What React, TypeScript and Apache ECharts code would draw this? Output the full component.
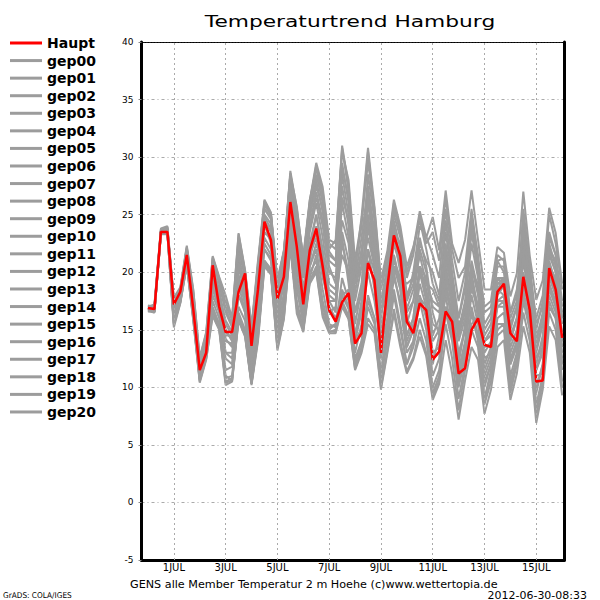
import React, { useEffect, useRef } from "react";
import * as echarts from "echarts";

// hours relative to 1 JUL 2012 00Z; one value every 6 h from 30 JUN 00Z to 16 JUL 00Z
const stepCount = 65;
const times: number[] = Array.from({ length: stepCount }, (_, i) => -24 + 6 * i);

const dayHours = [0, 48, 96, 144, 192, 240, 288, 336];
const dayLabels = ["1JUL", "3JUL", "5JUL", "7JUL", "9JUL", "11JUL", "13JUL", "15JUL"];

const haupt = [16.9, 16.8, 23.5, 23.5, 17.2, 18.3, 21.5, 16.8, 11.5, 13.0,
  20.6, 17.0, 14.8, 14.8, 18.3, 19.9, 13.6, 18.5, 24.4, 22.8, 17.7, 19.6,
  26.1, 22.2, 17.2, 21.9, 23.8, 20.5, 16.7, 15.7, 17.4, 18.2, 13.8, 14.7,
  20.8, 19.3, 13.0, 18.75, 23.2, 21.4, 15.7, 14.7, 17.3, 16.7, 12.4, 13.1,
  16.6, 15.7, 11.2, 11.65, 15.0, 16.0, 13.7, 13.5, 18.3, 19.0, 14.7, 14.0, 19.6, 16.7, 10.5, 10.6, 20.35, 18.5, 14.3];

const gep00 = [16.9, 16.7, 23.6, 23.8, 17.5, 18.5, 22.1, 18.2, 12.3, 14.5,
  21.0, 19.0, 16.5, 15.2, 22.0, 19.5, 14.8, 20.2, 25.5, 24.6, 18.5, 21.0,
  28.2, 24.5, 20.3, 25.1, 28.0, 25.2, 21.0, 20.5, 28.5, 25.0, 18.2, 21.5,
  27.0, 22.0, 16.0, 19.5, 24.0, 21.0, 16.8, 18.5, 21.5, 19.0, 18.5, 17.0,
  22.0, 18.0, 14.5, 16.5, 21.0, 18.5, 13.0, 14.0, 18.5, 18.0, 13.5, 15.0, 21.0, 17.5, 12.0, 14.5, 20.0, 18.0, 13.0];
const gep01 = [16.7, 16.6, 23.4, 23.5, 16.2, 17.8, 21.0, 16.5, 11.0, 13.2,
  18.5, 16.8, 12.5, 12.0, 19.0, 16.5, 11.5, 16.0, 22.5, 21.5, 15.0, 17.5,
  24.5, 19.5, 16.0, 20.5, 22.0, 18.5, 15.5, 15.2, 19.5, 17.5, 12.5, 14.0,
  18.0, 16.0, 11.0, 14.0, 18.0, 15.0, 12.0, 13.5, 16.0, 14.0, 10.0, 11.5,
  15.5, 12.5, 8.0, 11.5, 15.0, 13.5, 8.5, 10.5, 14.5, 15.0, 9.5, 12.0, 16.5, 14.0, 7.5, 10.5, 16.5, 15.0, 10.0];
const gep02 = [17.0, 17.1, 23.7, 23.9, 17.0, 18.2, 21.8, 17.5, 11.8, 14.0,
  20.5, 18.5, 15.5, 14.5, 21.0, 18.0, 13.5, 19.5, 25.8, 25.0, 18.8, 21.5,
  28.8, 25.5, 21.2, 26.0, 29.3, 27.0, 22.5, 22.0, 31.0, 27.5, 20.5, 24.0,
  30.5, 25.0, 18.5, 21.0, 26.0, 23.5, 19.5, 21.5, 25.0, 22.5, 23.5, 21.0,
  26.5, 22.0, 19.5, 20.5, 25.5, 21.0, 17.0, 17.5, 21.5, 21.0, 16.5, 18.0, 24.0, 20.0, 15.0, 17.5, 23.5, 21.5, 17.5];
const gep03 = [16.8, 16.5, 23.3, 23.4, 15.5, 17.4, 20.8, 16.0, 10.6, 12.6,
  17.0, 15.5, 10.8, 11.0, 16.5, 15.0, 10.5, 15.0, 21.0, 20.2, 13.8, 16.5,
  23.0, 17.5, 15.0, 19.5, 21.5, 17.0, 15.0, 15.5, 18.5, 17.0, 13.0, 15.5,
  20.0, 17.5, 13.5, 16.0, 20.5, 18.5, 14.5, 16.0, 20.5, 18.5, 15.5, 15.0,
  21.5, 19.0, 16.0, 18.5, 24.0, 20.5, 15.5, 16.5, 20.5, 20.5, 16.0, 17.5, 25.0, 20.0, 16.0, 18.0, 25.0, 22.5, 18.5];
const gep04 = [16.9, 16.8, 23.5, 23.6, 16.8, 18.0, 21.4, 17.0, 11.4, 13.5,
  19.5, 17.5, 14.0, 13.8, 19.8, 17.5, 12.8, 18.0, 24.0, 23.0, 16.5, 19.0,
  26.5, 22.5, 18.5, 23.5, 26.0, 23.0, 19.0, 18.5, 26.0, 23.0, 16.5, 19.0,
  25.0, 20.5, 14.5, 17.5, 22.5, 20.5, 15.5, 17.5, 22.0, 20.0, 14.5, 16.0,
  20.5, 17.5, 12.5, 15.0, 19.5, 17.0, 11.5, 13.0, 17.0, 17.5, 12.0, 14.0, 19.5, 17.0, 11.5, 13.5, 19.0, 17.5, 12.5];
const gep05 = [17.1, 17.0, 23.6, 23.7, 17.3, 18.4, 21.6, 17.8, 12.0, 14.2,
  20.8, 19.3, 17.5, 15.8, 23.0, 20.0, 15.0, 20.8, 26.0, 25.0, 19.0, 21.8,
  28.5, 25.7, 21.0, 26.2, 29.5, 27.4, 22.8, 22.5, 30.5, 28.0, 21.0, 24.5,
  29.5, 25.5, 19.0, 21.5, 25.0, 23.0, 18.0, 19.5, 23.0, 20.5, 16.5, 14.5,
  18.0, 14.5, 10.0, 12.5, 16.5, 14.0, 9.0, 11.5, 15.0, 15.5, 10.0, 12.5, 17.5, 15.0, 8.5, 11.0, 17.0, 16.0, 11.5];
const gep06 = [16.6, 16.6, 23.4, 23.5, 15.8, 17.6, 20.9, 16.3, 10.8, 12.8,
  16.5, 15.2, 10.5, 10.8, 16.0, 14.6, 10.3, 14.5, 20.8, 20.0, 13.5, 16.2,
  22.5, 16.8, 15.0, 19.2, 20.5, 16.5, 14.8, 15.0, 17.5, 16.2, 11.8, 13.5,
  17.0, 15.5, 11.5, 15.0, 19.5, 17.5, 13.5, 15.0, 19.0, 17.0, 13.0, 13.5,
  19.0, 16.5, 11.5, 14.0, 19.0, 17.0, 12.0, 13.5, 19.0, 19.5, 14.0, 16.0, 22.5, 19.0, 13.5, 15.5, 21.5, 20.0, 15.5];
const gep07 = [16.8, 16.9, 23.5, 23.8, 17.6, 18.6, 22.2, 18.4, 12.5, 14.7,
  21.3, 19.5, 17.0, 16.0, 23.3, 20.1, 15.2, 20.5, 26.2, 25.1, 19.2, 21.8,
  27.5, 24.0, 19.5, 24.0, 27.0, 24.5, 20.5, 19.0, 27.5, 24.0, 17.5, 20.5,
  28.5, 24.5, 17.5, 20.5, 25.5, 23.5, 20.0, 22.0, 25.3, 23.0, 24.8, 21.9,
  27.1, 22.5, 20.8, 22.8, 27.1, 22.8, 18.5, 18.5, 22.2, 21.7, 17.9, 19.9, 27.0, 21.4, 17.6, 19.3, 25.6, 23.4, 19.0];
const gep08 = [16.7, 16.7, 23.3, 23.4, 15.2, 17.3, 20.6, 15.8, 10.4, 12.4,
  16.2, 15.0, 10.2, 10.5, 15.8, 14.4, 10.2, 14.0, 20.5, 19.8, 13.2, 15.9,
  22.2, 16.4, 14.8, 19.0, 20.0, 16.1, 14.7, 14.7, 17.0, 15.9, 11.5, 13.0,
  15.5, 14.7, 9.8, 13.0, 16.4, 13.5, 11.2, 12.4, 14.4, 12.7, 8.9, 10.3,
  14.1, 11.2, 7.2, 10.6, 13.5, 12.4, 7.7, 9.8, 13.5, 14.1, 8.9, 11.2, 15.3, 13.0, 6.9, 9.8, 15.3, 14.1, 9.3];
const gep09 = [17.0, 16.9, 23.6, 23.7, 17.2, 18.3, 21.7, 17.6, 11.9, 13.9,
  20.0, 18.0, 15.8, 14.8, 21.5, 18.8, 14.0, 19.0, 25.0, 24.2, 17.8, 20.5,
  27.0, 23.5, 19.8, 24.8, 27.5, 25.5, 21.5, 21.0, 29.0, 26.5, 19.5, 23.0,
  27.5, 23.5, 17.0, 20.0, 24.5, 22.0, 17.5, 19.0, 22.5, 21.0, 20.0, 18.0,
  23.5, 19.5, 15.0, 17.5, 22.5, 19.5, 14.5, 15.5, 19.5, 19.5, 14.5, 16.0, 22.0, 18.5, 14.0, 16.5, 22.5, 20.5, 16.0];
const gep10 = [16.9, 16.8, 23.5, 23.6, 17.0, 18.2, 21.4, 16.9, 11.6, 13.1,
  20.3, 17.2, 14.5, 14.5, 18.5, 19.5, 13.8, 18.2, 24.2, 22.5, 17.5, 19.4,
  25.8, 21.8, 17.5, 21.5, 23.5, 20.8, 17.0, 16.0, 18.0, 18.5, 14.2, 15.0,
  21.0, 19.0, 13.5, 18.5, 22.8, 21.0, 16.0, 15.0, 17.8, 17.0, 13.0, 13.5,
  17.0, 16.0, 11.8, 12.0, 15.5, 16.2, 13.5, 13.8, 18.0, 18.8, 14.5, 14.2, 19.2, 17.0, 11.0, 11.2, 20.0, 18.8, 14.8];
const gep11 = [16.8, 16.7, 23.4, 23.6, 16.5, 17.9, 21.1, 16.6, 11.2, 13.4,
  18.0, 16.5, 13.0, 13.0, 18.0, 17.0, 13.0, 17.0, 22.0, 21.0, 16.0, 18.0,
  23.5, 20.0, 18.0, 20.5, 22.5, 20.5, 18.5, 18.0, 21.5, 20.0, 16.5, 18.0,
  22.0, 20.0, 16.5, 18.5, 21.0, 19.5, 16.5, 17.5, 20.0, 19.0, 17.5, 17.0,
  20.0, 18.0, 15.5, 16.5, 18.5, 17.0, 14.0, 14.5, 17.0, 17.0, 13.0, 14.5, 18.0, 16.0, 12.5, 13.5, 18.0, 16.5, 13.5];
const gep12 = [16.9, 17.0, 23.7, 23.9, 17.8, 18.7, 22.3, 18.5, 12.6, 14.8,
  21.4, 19.6, 18.0, 16.0, 23.4, 20.2, 15.3, 21.0, 26.3, 25.2, 19.3, 21.9,
  28.0, 24.8, 20.8, 25.5, 28.5, 26.0, 21.8, 21.0, 29.5, 26.0, 19.0, 22.0,
  26.0, 21.5, 15.0, 18.0, 23.0, 20.0, 14.5, 16.0, 20.5, 18.0, 12.5, 13.0,
  19.5, 15.5, 11.0, 13.5, 18.0, 15.5, 10.0, 12.0, 16.0, 16.5, 11.0, 13.0, 18.5, 15.5, 9.5, 12.0, 18.5, 17.0, 12.0];
const gep13 = [16.7, 16.6, 23.4, 23.5, 16.0, 17.7, 21.2, 16.2, 10.9, 12.9,
  17.5, 16.0, 11.5, 11.8, 17.0, 15.8, 11.0, 16.0, 22.0, 21.2, 14.5, 17.0,
  23.8, 18.5, 15.5, 20.0, 21.0, 17.5, 15.2, 15.5, 18.0, 16.8, 12.0, 14.0,
  17.5, 16.0, 10.5, 14.5, 18.5, 15.5, 12.0, 14.0, 18.0, 16.0, 11.0, 12.5,
  18.5, 16.0, 12.0, 15.5, 20.0, 19.0, 15.0, 16.0, 21.0, 21.2, 16.5, 18.5, 23.5, 20.5, 15.5, 17.0, 22.0, 21.0, 17.0];
const gep14 = [16.8, 16.8, 23.5, 23.6, 16.3, 17.8, 21.0, 16.8, 11.2, 13.3,
  18.8, 17.0, 13.0, 12.5, 18.0, 16.5, 12.0, 17.0, 23.0, 22.0, 15.5, 18.0,
  25.0, 20.5, 16.5, 21.0, 24.0, 20.0, 16.5, 17.0, 22.5, 20.0, 14.0, 16.5,
  22.0, 18.5, 12.5, 15.5, 20.0, 17.0, 13.0, 14.0, 17.5, 15.0, 9.5, 11.0,
  16.5, 14.0, 9.0, 12.0, 17.0, 14.5, 9.0, 11.0, 15.5, 15.5, 10.5, 12.5, 18.0, 15.0, 8.0, 10.5, 17.5, 16.0, 10.5];
const gep15 = [17.0, 17.2, 23.8, 24.0, 17.5, 18.5, 22.0, 18.0, 12.2, 14.3,
  21.2, 19.3, 16.8, 15.5, 22.5, 19.8, 14.5, 20.0, 25.5, 24.8, 18.6, 21.3,
  28.6, 25.0, 21.4, 26.3, 29.0, 26.5, 22.0, 22.8, 30.8, 27.0, 20.0, 24.8,
  30.8, 25.7, 19.3, 21.9, 26.3, 24.0, 20.5, 22.2, 24.5, 22.0, 19.0, 17.5,
  24.5, 20.0, 16.0, 19.0, 25.0, 21.5, 16.5, 17.0, 21.0, 20.0, 15.0, 17.0, 23.0, 19.5, 13.0, 15.5, 21.0, 19.0, 14.0];
const gep16 = [16.6, 16.5, 23.3, 23.3, 15.6, 17.5, 20.7, 16.1, 10.7, 12.7,
  16.8, 15.4, 11.0, 10.6, 16.2, 14.8, 10.4, 14.5, 21.0, 20.3, 14.0, 16.5,
  23.2, 19.0, 16.8, 21.5, 23.0, 19.5, 17.5, 17.5, 23.0, 19.0, 14.5, 17.5,
  24.0, 20.5, 15.5, 17.0, 21.5, 19.0, 14.0, 15.5, 20.5, 18.0, 14.0, 15.0,
  20.0, 17.0, 13.0, 15.0, 20.0, 16.5, 11.0, 12.5, 17.5, 18.0, 12.5, 13.5, 20.0, 17.5, 12.5, 14.0, 19.5, 18.0, 13.5];
const gep17 = [16.8, 16.9, 23.6, 23.7, 17.4, 18.4, 21.9, 17.8, 12.1, 14.1,
  20.2, 18.2, 15.0, 14.0, 20.5, 18.0, 13.5, 18.5, 24.5, 23.5, 17.0, 19.5,
  26.0, 22.0, 18.0, 22.5, 25.0, 22.0, 18.0, 17.5, 24.5, 22.5, 15.5, 18.5,
  26.5, 23.0, 16.5, 19.5, 23.5, 22.5, 17.5, 20.0, 24.0, 23.1, 21.5, 19.5,
  25.5, 21.0, 17.5, 20.0, 24.5, 20.0, 14.0, 14.5, 19.0, 19.0, 12.5, 14.0, 21.5, 18.0, 10.0, 12.0, 20.5, 19.5, 14.0];
const gep18 = [16.7, 16.6, 23.3, 23.4, 15.4, 17.4, 20.6, 15.9, 10.5, 12.5,
  16.3, 15.1, 10.4, 10.6, 15.9, 14.5, 10.3, 14.2, 20.6, 19.9, 13.4, 16.0,
  22.3, 17.0, 15.2, 19.3, 20.2, 16.3, 14.9, 14.8, 17.2, 16.0, 11.6, 13.2,
  16.0, 15.0, 10.0, 13.2, 16.8, 14.0, 11.4, 12.6, 15.0, 13.0, 9.2, 10.6,
  17.0, 14.5, 10.5, 13.0, 19.5, 16.0, 10.5, 12.0, 18.5, 19.5, 15.5, 17.0, 24.5, 19.0, 14.5, 16.0, 22.0, 20.0, 16.5];
const gep19 = [16.9, 16.9, 23.5, 23.7, 17.1, 18.1, 21.5, 17.3, 11.7, 13.7,
  19.8, 17.8, 14.8, 14.2, 20.8, 18.5, 13.8, 19.2, 24.8, 23.8, 17.2, 20.0,
  27.3, 23.0, 19.5, 24.0, 26.5, 24.0, 20.0, 19.5, 26.5, 24.5, 19.0, 20.5,
  23.0, 20.5, 19.0, 19.5, 20.5, 19.5, 19.0, 19.5, 20.5, 19.5, 17.0, 16.5,
  21.0, 18.5, 14.0, 16.0, 20.5, 18.0, 12.5, 13.0, 17.5, 17.5, 12.0, 13.5, 19.0, 16.5, 11.5, 13.0, 19.0, 17.0, 12.0];
const gep20 = [16.8, 16.7, 23.4, 23.6, 16.6, 18.0, 21.3, 17.2, 11.5, 13.6,
  19.0, 17.6, 14.2, 13.5, 19.5, 17.2, 12.5, 17.5, 23.5, 22.8, 16.0, 19.0,
  25.5, 21.0, 17.0, 22.0, 25.0, 21.5, 17.5, 16.5, 23.5, 21.0, 14.5, 17.0,
  24.5, 21.5, 14.0, 17.0, 21.5, 18.5, 13.5, 15.0, 20.0, 17.5, 12.0, 14.5,
  22.5, 19.0, 14.5, 17.0, 23.5, 20.0, 14.0, 15.0, 19.5, 19.0, 14.0, 16.0, 25.5, 20.5, 14.0, 16.0, 23.0, 21.5, 16.0];

const memberNames = ["gep00", "gep01", "gep02", "gep03", "gep04", "gep05", "gep06", "gep07", "gep08", "gep09", "gep10",
  "gep11", "gep12", "gep13", "gep14", "gep15", "gep16", "gep17", "gep18", "gep19", "gep20"];
const members = [gep00, gep01, gep02, gep03, gep04, gep05, gep06, gep07, gep08, gep09, gep10,
  gep11, gep12, gep13, gep14, gep15, gep16, gep17, gep18, gep19, gep20];

const titleText = "Temperaturtrend Hamburg";
const footerText = "GENS alle Member Temperatur 2 m Hoehe (c)www.wettertopia.de";
const creditText = "GrADS: COLA/IGES";
const stampText = "2012-06-30-08:33";

const GREY = "#9c9c9c";
const RED = "#ff0000";
const FONT = "DejaVu Sans";

export default function App() {
  const ref = useRef<HTMLDivElement>(null);
  useEffect(() => {
    document.body.style.margin = "0";
    if (!ref.current) return;
    const chart = echarts.init(ref.current, null, { renderer: "svg" });
    const toPairs = (vals: number[]) => vals.map((v, i) => [times[i], v]);
    const memberSeries = members.map((vals, k) => ({
      name: memberNames[k],
      type: "line",
      data: toPairs(vals),
      symbol: "none",
      showSymbol: false,
      silent: true,
      z: 2,
      lineStyle: { color: GREY, width: 2 },
      itemStyle: { color: GREY },
    }));
    const option: any = {
      animation: false,
      grid: { left: 141.5, right: 35.7, top: 42, bottom: 40, containLabel: false },
      legend: {
        orient: "vertical",
        left: 5,
        top: 30,
        icon: "rect",
        itemWidth: 32,
        itemHeight: 3,
        itemGap: 1.57,
        selectedMode: false,
        data: ["Haupt", ...memberNames],
        textStyle: { fontFamily: FONT, fontWeight: "bold", fontSize: 14, color: "#000", lineHeight: 16 },
      },
      xAxis: [
        {
          type: "value",
          min: -30,
          max: 362,
          position: "bottom",
          axisLine: { show: true, onZero: false, lineStyle: { color: "#000", width: 3 } },
          axisTick: { show: false },
          splitLine: { show: false },
          axisLabel: {
            customValues: dayHours,
            formatter: (v: number) => {
              const k = dayHours.indexOf(v);
              return k >= 0 ? dayLabels[k] : "";
            },
            fontFamily: FONT,
            fontSize: 10,
            color: "#000",
            margin: 2,
          },
        },
        {
          type: "value",
          min: -30,
          max: 362,
          position: "top",
          axisLine: { show: true, onZero: false, lineStyle: { color: "#000", width: 1, type: [2, 1] } },
          axisTick: { show: false },
          axisLabel: { show: false },
          splitLine: { show: false },
        },
      ],
      yAxis: [
        {
          type: "value",
          min: -5,
          max: 40,
          interval: 5,
          axisLine: { show: true, onZero: false, lineStyle: { color: "#000", width: 3 } },
          axisTick: { show: true, length: 3, lineStyle: { color: "#888" } },
          axisLabel: { fontFamily: FONT, fontSize: 9, color: "#000", margin: 8 },
          splitLine: { show: true, lineStyle: { color: "#aaa", width: 1, type: [3, 3, 1, 3] } },
        },
        {
          type: "value",
          min: -5,
          max: 40,
          interval: 5,
          position: "right",
          axisLine: { show: true, onZero: false, lineStyle: { color: "#000", width: 3 } },
          axisTick: { show: false },
          axisLabel: { show: false },
          splitLine: { show: false },
        },
      ],
      series: [
        {
          name: "_grid",
          type: "line",
          data: [],
          silent: true,
          z: 1,
          markLine: {
            silent: true,
            symbol: ["none", "none"],
            label: { show: false },
            lineStyle: { color: "#aaa", width: 1, type: [2, 3] },
            data: dayHours.map((h) => ({ xAxis: h })),
          },
        },
        ...memberSeries,
        {
          name: "Haupt",
          type: "line",
          data: toPairs(haupt),
          symbol: "none",
          showSymbol: false,
          silent: true,
          z: 3,
          lineStyle: { color: RED, width: 2.5 },
          itemStyle: { color: RED },
        },
      ],
      graphic: [
        {
          type: "text",
          x: 350,
          y: 22,
          scaleX: 1.45,
          style: { text: titleText, fontFamily: FONT, fontSize: 15, fill: "#000", textAlign: "center", textVerticalAlign: "middle" },
        },
        {
          type: "text",
          x: 130,
          y: 585,
          scaleX: 1.12,
          style: { text: footerText, fontFamily: FONT, fontSize: 10, fill: "#000", textAlign: "left", textVerticalAlign: "middle" },
        },
        {
          type: "text",
          x: 3,
          y: 595,
          scaleX: 0.92,
          style: { text: creditText, fontFamily: FONT, fontSize: 8, fill: "#000", textAlign: "left", textVerticalAlign: "middle" },
        },
        {
          type: "text",
          x: 587,
          y: 595,
          scaleX: 1.1,
          style: { text: stampText, fontFamily: FONT, fontSize: 10, fill: "#000", textAlign: "right", textVerticalAlign: "middle" },
        },
      ],
    };
    chart.setOption(option);
    return () => chart.dispose();
  }, []);
  return <div ref={ref} style={{ position: "absolute", left: 0, top: 0, width: 600, height: 600 }} />;
}
